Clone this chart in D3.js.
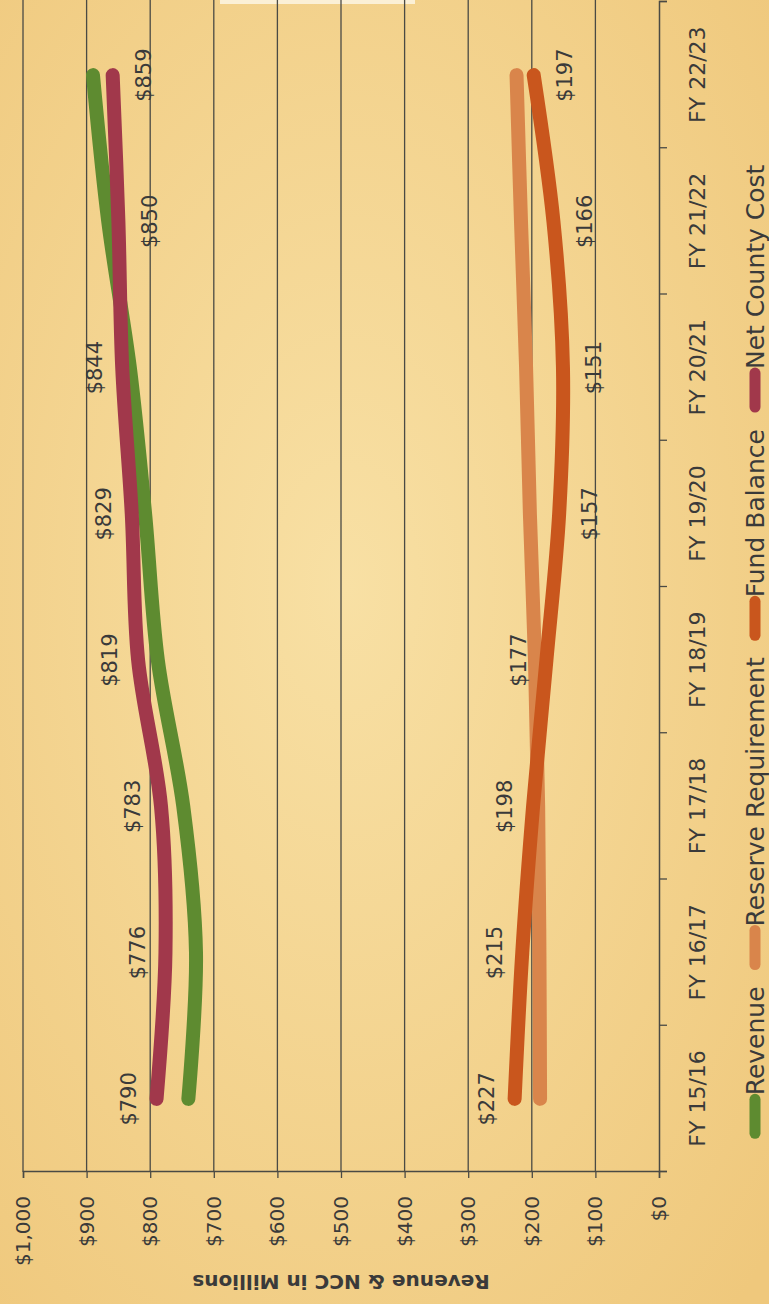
<!DOCTYPE html>
<html><head><meta charset="utf-8">
<script src="https://cdn.jsdelivr.net/npm/d3@7"></script>
<style>html,body{margin:0;padding:0;background:#F3D48E;overflow:hidden}</style>
</head><body>
<svg id="chart" width="769" height="1304"></svg>
<script>
// ---- data ----
const categories = ["FY 15/16","FY 16/17","FY 17/18","FY 18/19","FY 19/20","FY 20/21","FY 21/22","FY 22/23"];
const revenue = [740, 728, 748, 788, 808, 832, 866, 890];
const reserveRequirement = [187, 188, 190, 195, 203, 209, 217, 224];
const fundBalance = [227, 215, 198, 177, 157, 151, 166, 197];
const netCountyCost = [790, 776, 783, 819, 829, 844, 850, 859];
const yTicks = [0,100,200,300,400,500,600,700,800,900,1000];
const seriesNames = ["Revenue","Reserve Requirement","Fund Balance","Net County Cost"];
// label placement (relative to line)
const fundLabelPos = ["above","above","above","above","below","below","below","below"];
const nccLabelPos  = ["above","above","above","above","above","above","below","below"];

// ---- styles ----
const colors = {"Revenue":"#5E8B30","Reserve Requirement":"#D9854B","Fund Balance":"#C9561D","Net County Cost":"#A1384B"};
const textColor = "#3a3a3a";
const font = "'DejaVu Sans', sans-serif";

const W = 1304, H = 769; // un-rotated frame
const svg = d3.select("#chart");
const defs = svg.append("defs");
const grad = defs.append("radialGradient").attr("id","bg").attr("cx","45%").attr("cy","45%").attr("r","75%");
grad.append("stop").attr("offset","0%").attr("stop-color","#F8E0A4");
grad.append("stop").attr("offset","100%").attr("stop-color","#EFC87C");
svg.append("rect").attr("width",769).attr("height",1304).attr("fill","url(#bg)");
svg.append("rect").attr("x",220).attr("y",0).attr("width",195).attr("height",4).attr("fill","#FBF0D6");

const g = svg.append("g").attr("transform",`translate(0,${W}) rotate(-90)`);
const plot = {left:132, right:1302, top:23, bottom:659};

const x = d3.scalePoint().domain(categories).range([plot.left, plot.right]).padding(0.5);
const xb = d3.scaleLinear().domain([0, categories.length]).range([plot.left, plot.right]);
const y = d3.scaleLinear().domain([0,1000]).range([plot.bottom, plot.top]);
const fmt = v => "$" + d3.format(",")(v);

// gridlines
g.append("g").selectAll("line").data(yTicks.filter(v=>v>0)).join("line")
  .attr("x1",plot.left).attr("x2",W).attr("y1",d=>y(d)).attr("y2",d=>y(d))
  .attr("stroke","#4a4a44").attr("stroke-width",1.3);

// y axis
const ya = g.append("g").attr("transform",`translate(${plot.left},0)`)
  .call(d3.axisLeft(y).tickValues(yTicks).tickSize(6).tickPadding(18).tickFormat(fmt));
ya.select(".domain").attr("stroke","#4a4a44").attr("stroke-width",1.5);
ya.selectAll(".tick line").attr("stroke","#4a4a44").attr("stroke-width",1.3);
ya.selectAll("text").attr("font-family",font).attr("font-size",20).attr("fill",textColor);

// x axis ticks (band boundaries)
const xt = g.append("g").attr("transform",`translate(0,${plot.bottom})`)
  .call(d3.axisBottom(xb).tickValues(d3.range(0, categories.length+1)).tickSize(8).tickFormat(""));
xt.select(".domain").attr("stroke","#4a4a44").attr("stroke-width",1.5);
xt.selectAll(".tick line").attr("stroke","#4a4a44").attr("stroke-width",1.3);
// x axis labels
const xl = g.append("g").attr("transform",`translate(0,${plot.bottom})`)
  .call(d3.axisBottom(x).tickSize(0).tickPadding(30));
xl.select(".domain").remove();
xl.selectAll("text").attr("font-family",font).attr("font-size",22).attr("fill",textColor);

// axis title
g.append("text").attr("transform",`translate(22,${(plot.top+plot.bottom)/2}) rotate(-90)`)
  .attr("text-anchor","middle").attr("dy","0.35em")
  .attr("font-family",font).attr("font-weight","bold").attr("font-size",20).attr("fill",textColor)
  .text("Revenue & NCC in Millions");

// lines
const line = d3.line().x((d,i)=>x(categories[i])).y(d=>y(d)).curve(d3.curveCardinal.tension(0));
const seriesData = [["Revenue",revenue],["Reserve Requirement",reserveRequirement],["Fund Balance",fundBalance],["Net County Cost",netCountyCost]];
g.append("g").selectAll("path").data(seriesData).join("path")
  .attr("d",d=>line(d[1])).attr("fill","none").attr("stroke",d=>colors[d[0]])
  .attr("stroke-width",14).attr("stroke-linecap","round").attr("stroke-linejoin","round");

// data labels
function labels(values, pos){
  g.append("g").selectAll("text").data(values).join("text")
    .attr("x",(d,i)=>x(categories[i]))
    .attr("y",(d,i)=>y(d) + (pos[i]==="above" ? -28 : 31))
    .attr("dy","0.35em").attr("text-anchor","middle")
    .attr("font-family",font).attr("font-size",21).attr("fill",textColor)
    .text(d=>fmt(d));
}
labels(netCountyCost, nccLabelPos);
labels(fundBalance, fundLabelPos);

// legend
const lg = g.append("g").attr("transform",`translate(0,755)`);
const items = lg.selectAll("g").data(seriesNames).join("g");
items.append("line").attr("x1",6).attr("x2",40).attr("y1",0).attr("y2",0)
  .attr("stroke",d=>colors[d]).attr("stroke-width",11).attr("stroke-linecap","round");
items.append("text").attr("x",44).attr("dy","0.35em")
  .attr("font-family",font).attr("font-size",25).attr("fill",textColor).text(d=>d);
let widths = [];
items.each(function(){ widths.push(44 + this.querySelector("text").getComputedTextLength()); });
const gap = 16;
const total = d3.sum(widths) + gap*(widths.length-1);
let cx = W/2 - total/2;
items.each(function(d,i){ d3.select(this).attr("transform",`translate(${cx},0)`); cx += widths[i] + gap; });
</script>
</body></html>
